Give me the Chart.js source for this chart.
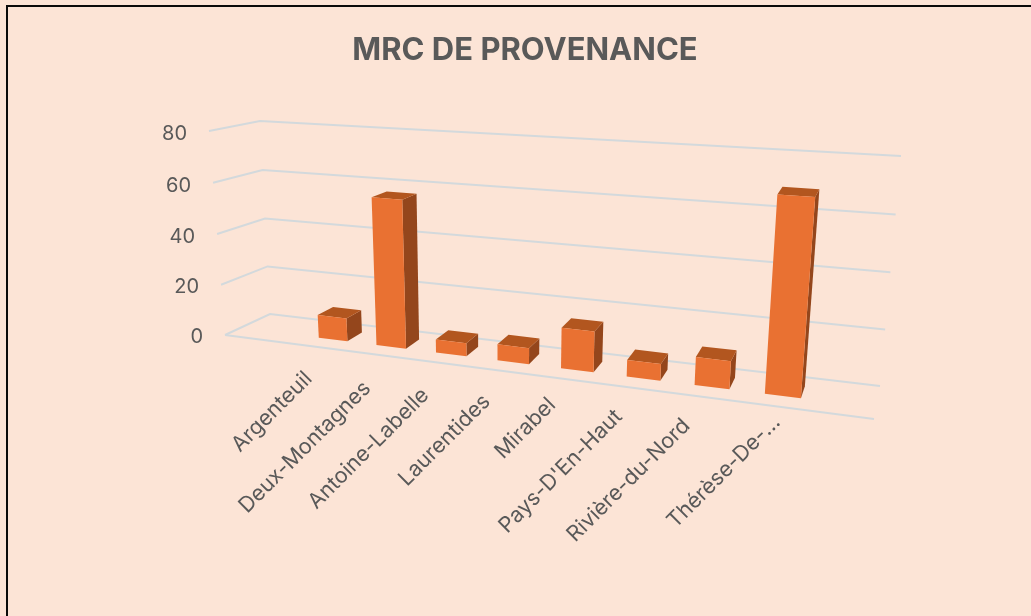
<!DOCTYPE html>
<html lang="fr">
<head>
  <meta charset="UTF-8">
  <title>MRC de provenance</title>
  <style>
    body { margin: 0; background: #fce4d6; overflow: hidden; }
    #cadre {
      position: absolute; left: 6px; top: 5px; width: 1031px; height: 620px;
      border-top: 2px solid #0a0a0a; border-left: 2px solid #0a0a0a;
    }
    canvas { position: absolute; left: 0; top: 0; }
  </style>
</head>
<body>
  <div id="cadre"></div>
  <canvas id="myChart" width="1031" height="616"></canvas>

  <script src="https://cdn.jsdelivr.net/npm/chart.js"></script>
  <script>
    const categories = ['Argenteuil', 'Deux-Montagnes', 'Antoine-Labelle', 'Laurentides', 'Mirabel', "Pays-D'En-Haut", 'Rivière-du-Nord', 'Thérèse-De-…'];
    const values = [9, 57, 5, 6, 15, 6, 10, 69];
    const yTicks = [0, 20, 40, 60, 80];

    // box corners on screen: [x, y, depth from the camera]
    // index order: left/right, bottom/top, front/back
    const box = [
      [[[225, 335, 1], [270, 314, 1.05]], [[209, 131, 0.98], [260, 121, 1.03]]],
      [[[874, 419, 0.85], [880, 386, 0.89]], [[895, 176, 0.83], [901, 156, 0.87]]]
    ];
    const uStart = 0.117, uEnd = 0.923;   // bars do not fill the floor
    const depthFront = 0.33, depthBack = 0.71;
    // the renderer places the slanted labels a bit unevenly
    const labelNudge = [[-11, 28], [-12, 30], [-15, 29], [-17, 27], [-17, 22], [-18, 25], [-20, 25], [-2, 12]];

    const textColor = '#595959';
    const gridColor = '#d3d9dc';
    const sideColor = '#94461c';
    const topColor = '#b2561f';

    function project(u, t, w) {
      let X = 0, Y = 0, W = 0;
      for (let i = 0; i < 2; i++) {
        for (let j = 0; j < 2; j++) {
          for (let k = 0; k < 2; k++) {
            const c = box[i][j][k];
            const f = (i ? u : 1 - u) * (j ? t : 1 - t) * (k ? w : 1 - w);
            X += f * c[0] * c[2];
            Y += f * c[1] * c[2];
            W += f * c[2];
          }
        }
      }
      return [X / W, Y / W];
    }

    function line(ctx, a, b, c) {
      ctx.beginPath();
      ctx.moveTo(a[0], a[1]);
      ctx.lineTo(b[0], b[1]);
      if (c) ctx.lineTo(c[0], c[1]);
      ctx.stroke();
    }

    function face(ctx, color, pts) {
      ctx.fillStyle = color;
      ctx.beginPath();
      pts.forEach((p, i) => i ? ctx.lineTo(p[0], p[1]) : ctx.moveTo(p[0], p[1]));
      ctx.closePath();
      ctx.fill();
    }

    // the native scales give the positions, this plugin tilts them into the 3D box
    const box3d = {
      id: 'box3d',
      beforeDatasetsDraw(chart) {
        const ctx = chart.ctx;
        const area = chart.chartArea;
        const yScale = chart.scales.y;
        const toU = px => uStart + (uEnd - uStart) * (px - area.left) / area.width;
        const toT = px => (area.bottom - px) / area.height;

        ctx.save();
        ctx.strokeStyle = gridColor;
        ctx.lineWidth = 2;
        yTicks.forEach(v => {
          const t = toT(yScale.getPixelForValue(v));
          line(ctx, project(0, t, 0), project(0, t, 1), project(1, t, 1));
        });
        line(ctx, project(0, 0, 0), project(1, 0, 0));

        ctx.fillStyle = textColor;
        ctx.font = '20px Inter';
        ctx.textAlign = 'right';
        ctx.textBaseline = 'middle';
        yTicks.forEach(v => {
          const p = project(0, toT(yScale.getPixelForValue(v)), 0);
          ctx.fillText(String(v), p[0] - 22, p[1] + (v > 20 ? 3 : 2));
        });

        const bars = chart.getDatasetMeta(0).data;
        bars.forEach((bar, i) => {
          const u0 = toU(bar.x - bar.width / 2);
          const u1 = toU(bar.x + bar.width / 2);
          const t = toT(bar.y);
          const a = project(u0, 0, depthFront), b = project(u1, 0, depthFront);
          const c = project(u1, t, depthFront), d = project(u0, t, depthFront);
          const e = project(u1, 0, depthBack), f = project(u1, t, depthBack), g = project(u0, t, depthBack);
          face(ctx, sideColor, [b, e, f, c]);
          face(ctx, topColor, [d, c, f, g]);
          face(ctx, chart.data.datasets[0].backgroundColor, [a, b, c, d]);

          const p = project(toU(bar.x), 0, 0);
          ctx.save();
          ctx.translate(p[0] + labelNudge[i][0], p[1] + labelNudge[i][1]);
          ctx.rotate(-45 * Math.PI / 180);
          ctx.textAlign = 'right';
          ctx.textBaseline = 'middle';
          ctx.fillStyle = textColor;
          ctx.font = '21.5px Inter';
          ctx.fillText(categories[i], 0, 0);
          ctx.restore();
        });
        ctx.restore();
        return false;
      }
    };

    new Chart(document.getElementById('myChart'), {
      type: 'bar',
      data: {
        labels: categories,
        datasets: [{ data: values, backgroundColor: '#e97132', categoryPercentage: 0.5, barPercentage: 1 }]
      },
      options: {
        responsive: false,
        animation: false,
        layout: { padding: { left: 19, top: 32 } },
        plugins: {
          legend: { display: false },
          tooltip: { enabled: false },
          title: {
            display: true,
            text: 'MRC DE PROVENANCE',
            color: textColor,
            font: { family: 'Inter', size: 31, weight: 'bold' },
            padding: 0
          }
        },
        scales: {
          x: { display: false },
          y: { display: false, min: 0, max: 80, ticks: { stepSize: 20 } }
        }
      },
      plugins: [box3d]
    });
  </script>
</body>
</html>
